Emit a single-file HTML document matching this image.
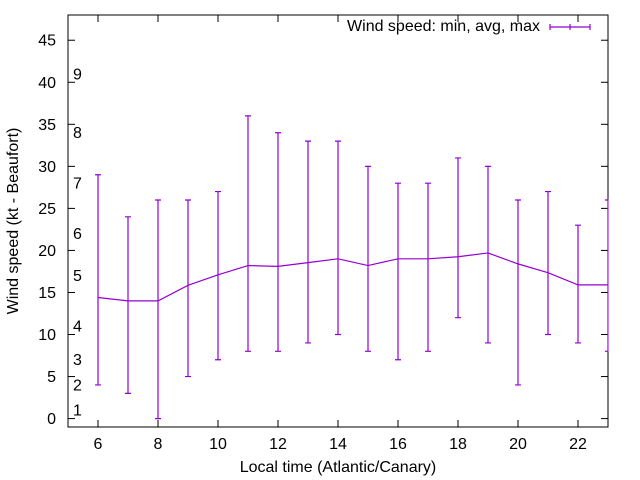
<!DOCTYPE html>
<html><head><meta charset="utf-8"><style>
body{margin:0;background:#fff}
svg{display:block;font-family:"Liberation Sans",sans-serif}
</style></head><body>
<svg id="chart" width="640" height="480" viewBox="0 0 640 480" xmlns="http://www.w3.org/2000/svg">
<rect width="640" height="480" fill="#fff"/>
</svg>
<script>
const hours = [6,7,8,9,10,11,12,13,14,15,16,17,18,19,20,21,22,23];
const avgSpeed = [14.4,14.0,14.0,15.85,17.1,18.2,18.1,18.55,19.0,18.2,19.0,19.0,19.25,19.7,18.4,17.35,15.9,15.9];
const minSpeed = [4,3,0,5,7,8,8,9,10,8,7,8,12,9,4,10,9,8];
const maxSpeed = [29,24,26,26,27,36,34,33,33,30,28,28,31,30,26,27,23,26];
const yTicks = [0,5,10,15,20,25,30,35,40,45];
const xTicks = [6,8,10,12,14,16,18,20,22];
const beaufortLabels = ["1","2","3","4","5","6","7","8","9"];
const beaufortKt = [1,4,7,11,17,22,28,34,41];

const L=68,R=608,T=15,B=427, X0=5,X1=23, Y0=-1,Y1=48;
const sx=v=>L+(v-X0)/(X1-X0)*(R-L);
const sy=v=>B-(v-Y0)/(Y1-Y0)*(B-T);
const svg=document.getElementById('chart');
const NS='http://www.w3.org/2000/svg';
function mk(tag,attrs,parent){const e=document.createElementNS(NS,tag);for(const k in attrs)e.setAttribute(k,attrs[k]);(parent||svg).appendChild(e);return e;}
const col='#9400d3';
const FS=16;

const ticksG=mk('g',{stroke:'#000','stroke-width':1});


yTicks.forEach(v=>{
  const y=sy(v);
  mk('line',{x1:L,x2:L+7,y1:y,y2:y},ticksG);
  mk('line',{x1:R,x2:R-7,y1:y,y2:y},ticksG);
  const t=mk('text',{x:L-12,y:y+5.5,'text-anchor':'end','font-size':FS,fill:'#000',stroke:'none'});
  t.textContent=v;
  
  
});
xTicks.forEach(v=>{
  const x=sx(v);
  mk('line',{x1:x,x2:x,y1:B,y2:B-7},ticksG);
  mk('line',{x1:x,x2:x,y1:T,y2:T+7},ticksG);
  const t=mk('text',{x:x,y:449,'text-anchor':'middle','font-size':FS,fill:'#000',stroke:'none'});
  t.textContent=v;
  
  
});
beaufortLabels.forEach((s,i)=>{
  const t=mk('text',{x:73,y:sy(beaufortKt[i])+5.5,'font-size':FS,fill:'#000'});
  t.textContent=s;
  
  
});

const frame=mk('rect',{x:L,y:T,width:R-L,height:B-T,fill:'none',stroke:'#000','stroke-width':1});



const clip=mk('clipPath',{id:'pc'});mk('rect',{x:L,y:T,width:R-L+0.5,height:B-T},clip);
const g=mk('g',{'clip-path':'url(#pc)',stroke:col,'stroke-width':1.2,fill:'none'});


const line=mk('polyline',{points:hours.map((h,i)=>sx(h)+','+sy(avgSpeed[i])).join(' ')},g);


hours.forEach((h,i)=>{
  const x=sx(h),y1=sy(minSpeed[i]),y2=sy(maxSpeed[i]);
  const eb=mk('path',{d:`M${x},${y1}V${y2}M${x-3},${y1}H${x+3}M${x-3},${y2}H${x+3}`},g);
  
  
});

const lg=mk('g',{});


const lt=mk('text',{x:540,y:31,'text-anchor':'end','font-size':FS,fill:'#000'},lg);
lt.textContent='Wind speed: min, avg, max';
mk('path',{d:'M550,27H590M550,24V30M590,24V30M570,24V30',stroke:col,'stroke-width':1.2,fill:'none'},lg);

const yt=mk('text',{x:0,y:0,'text-anchor':'middle','font-size':FS,fill:'#000',transform:`translate(18,${(T+B)/2}) rotate(-90)`});
yt.textContent='Wind speed (kt - Beaufort)';


const xt=mk('text',{x:(L+R)/2,y:472,'text-anchor':'middle','font-size':FS,fill:'#000'});
xt.textContent='Local time (Atlantic/Canary)';


</script>
</body></html>
